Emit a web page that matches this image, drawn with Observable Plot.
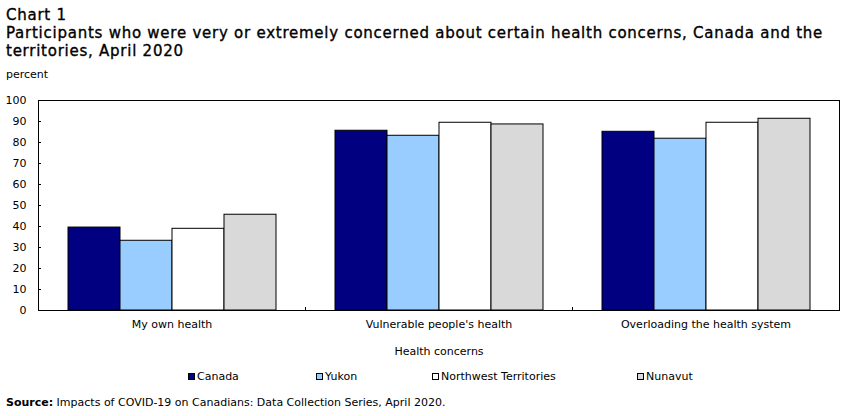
<!DOCTYPE html>
<html>
<head>
<meta charset="utf-8">
<script src="https://cdn.jsdelivr.net/npm/d3@7"></script>
<script src="https://cdn.jsdelivr.net/npm/@observablehq/plot@0.6"></script>
<style>
  body { margin: 0; background: #fff; color: #000; font-family: "DejaVu Sans", Verdana, sans-serif;
         width: 852px; height: 416px; position: relative; overflow: hidden; }
  #title { position: absolute; left: 6px; top: 6px; font-size: 15px; line-height: 18px; letter-spacing: 0.75px; white-space: nowrap; -webkit-text-stroke: 0.35px #000; }
  #unit { position: absolute; left: 6px; top: 68px; font-size: 11px; }
  #chart { position: absolute; left: 0; top: 88px; }
  #legend { position: absolute; left: 0; top: 370px; width: 852px; height: 16px; font-size: 11px; }
  .item { position: absolute; top: 0; white-space: nowrap; display: flex; align-items: center; }
  .sw { width: 5px; height: 5px; border: 1px solid #000; margin-right: 2px; }
  #source { position: absolute; left: 6px; top: 396px; font-size: 11px; white-space: nowrap; }
</style>
</head>
<body>
<div id="title">Chart 1<br>Participants who were very or extremely concerned about certain health concerns, Canada and the<br>territories, April 2020</div>
<div id="unit">percent</div>
<div id="chart"></div>
<div id="legend"></div>
<div id="source"><b>Source:</b> Impacts of COVID-19 on Canadians: Data Collection Series, April 2020.</div>
<script>
// Health concerns (groups) and regions (series)
const categories = ["My own health", "Vulnerable people's health", "Overloading the health system"];
const series = ["Canada", "Yukon", "Northwest Territories", "Nunavut"];

// Percent very or extremely concerned, one value per health concern
const canada = [39.5, 85.6, 85.1];
const yukon = [33.2, 83.2, 81.8];
const northwestTerritories = [38.9, 89.4, 89.4];
const nunavut = [45.6, 88.6, 91.3];

const yTicks = [0, 10, 20, 30, 40, 50, 60, 70, 80, 90, 100];
const colors = ["#000080", "#99ccff", "#ffffff", "#d9d9d9"];

const values = [canada, yukon, northwestTerritories, nunavut];
const rows = [];
categories.forEach((category, i) => {
  series.forEach((s, j) => rows.push({category, series: s, value: values[j][i]}));
});

const chart = Plot.plot({
  width: 852,
  height: 274,
  marginTop: 12,
  marginBottom: 52,
  marginLeft: 37,
  marginRight: 12,
  style: {fontFamily: "'DejaVu Sans', Verdana, sans-serif", fontSize: "11px", color: "#000", background: "#fff"},
  fx: {domain: categories, padding: 0},
  x: {domain: series, paddingInner: 0, paddingOuter: 0.54, axis: null},
  y: {domain: [0, 100]},
  color: {domain: series, range: colors},
  marks: [
    Plot.barY(rows, {fx: "category", x: "series", y: "value", fill: "series", stroke: "#000", strokeWidth: 1}),
    // plot area border
    Plot.ruleY([0, 100], {stroke: "#000"}),
    Plot.frame({anchor: "left", facetAnchor: "left", stroke: "#000"}),
    Plot.frame({anchor: "right", facetAnchor: "right", stroke: "#000"}),
    // short separators between the groups
    Plot.frame({anchor: "left", insetTop: 207, stroke: "#000"}),
    Plot.axisY(yTicks, {anchor: "left", tickSize: -3, tickPadding: 15, label: null}),
    Plot.axisFx({anchor: "bottom", tickSize: 0, tickPadding: 10, label: "Health concerns", labelAnchor: "center", labelOffset: 44})
  ]
});
document.getElementById("chart").appendChild(chart);

// Legend below the chart
const legendX = [188, 316, 432, 637];
const legend = document.getElementById("legend");
series.forEach((s, i) => {
  const item = document.createElement("div");
  item.className = "item";
  item.style.left = legendX[i] + "px";
  const sw = document.createElement("span");
  sw.className = "sw";
  sw.style.background = colors[i];
  item.appendChild(sw);
  item.appendChild(document.createTextNode(s));
  legend.appendChild(item);
});
</script>
</body>
</html>
